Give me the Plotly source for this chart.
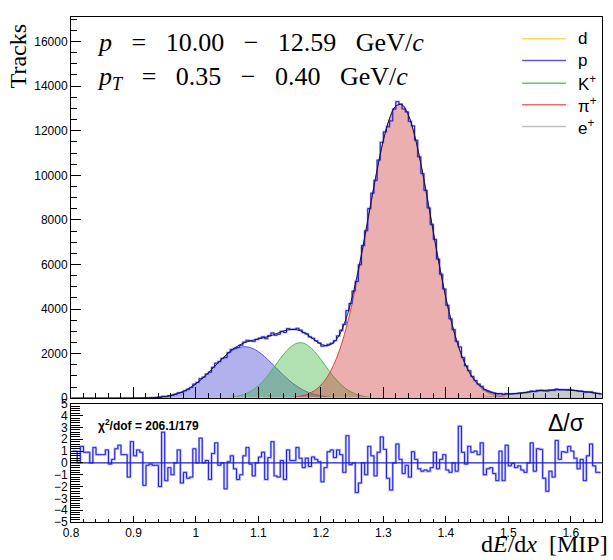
import numpy as np
import plotly.graph_objects as go

# ---------------- data ----------------
hist_counts = [
    1, 1, 0, 2, 1, 1, 0, 2, 1, 1, 1, 2, 0, 1, 2, 3, 2, 3, 1, 6,
    5, 9, 11, 5, 14, 21, 27, 37, 36, 87, 72, 108,
    133, 184, 247, 256, 335, 398, 483, 635, 710, 885, 948, 1087, 1171, 1392, 1573, 1642, 1790, 1827,
    2052, 2189, 2238, 2282, 2375, 2515, 2601, 2571, 2556, 2643, 2701, 2755, 2672, 2810, 2929,
    2826, 2872, 2999, 2953, 3123, 3091, 3093, 3137, 3057, 2943, 2891, 2754, 2691, 2580, 2480,
    2336, 2358, 2416, 2469, 2583, 2798, 3048, 3314, 3932, 4250, 4810, 5236, 5987, 6850, 7513,
    8508, 9197, 9771, 10683,
    11473, 11945, 12176, 12441, 12970, 13303, 13199, 12977, 12847, 12416, 12215, 11572, 10828,
    10079, 9322, 8535, 7795, 7126, 6240, 5562, 4899, 4171, 3562, 3080, 2554, 2304, 1828, 1456,
    1238, 978, 798, 637, 533, 380, 321,
    273, 231, 193, 214, 169, 211, 192, 204, 210, 226, 237, 250, 280, 326, 301, 350, 363, 329,
    317, 357, 353, 416, 385, 394, 387, 390, 372, 349, 319, 318, 271, 290, 289, 242, 218, 199,
]

residuals = [
    1.0, 1.0, 0.0, 1.4, 0.9, 0.9, 0.0, 1.3, 0.7, 0.7, 0.7, 1.1, -0.1, 0.3, 1.2, 1.5, 0.7, 0.7,
    -1.2, 1.8, 0.6, 1.1, 0.9, -1.9, -0.2, -0.1, -0.2, -0.2, -2.0, 2.6, -1.5, -0.4,
    -1.0, 0.0, 1.1, -1.7, -0.8, -1.3, -1.2, 1.2, 0.0, 2.1, 0.0, 0.2, -1.4, 0.8, 1.7, -0.2, 0.0,
    -2.2, 0.1, 0.6, -0.5, -1.4, -1.0, 0.6, 1.3, -0.1, -1.1, 0.0, 0.5, 0.9, -1.4, 0.45, 1.8,
    -1.1, -1.2, 0.2, -1.4, 1.1, 0.2, 0.2, 1.3, 0.4, -0.4, 0.4, -0.3, 0.5, 0.3, 0.1, -1.6, -0.4,
    0.95, 1.1, 0.45, 1.1, 0.7, -0.8, 2.3, -0.15, 0.0, -2.5, -1.7, 0.0, -1.0, 1.4, 0.6, -1.1, 0.9,
    2.2, 1.15, -1.3, -2.3, 0.0, 1.6, 0.3, -0.9, -0.2, -1.2, 0.95, 0.3, -0.5, -0.7, -0.6, -0.7,
    -0.4, 0.9, -0.5, 0.3, 0.7, -0.6, -0.8, 0.0, -0.7, 3.1, 0.9, -0.1, 1.4, 0.9, 1.0, 0.7, 1.7,
    -1.0, -0.5,
    -0.4, -0.9, -1.5, 1.0, -1.5, 1.5, -0.25, -0.05, -0.4, -0.25, -0.6, -0.8, 0.0, 1.7, -0.7, 1.2,
    1.15, -1.3, -2.4, -0.7, -1.2, 1.9, 0.3, 0.95, 0.9, 1.4, 1.0, 0.4, -0.5, 0.3, -1.5, 0.6, 1.6,
    -0.25, -0.8, -0.8,
]

# fit components sampled every 0.01 from 0.80 to 1.65 (86 points)
comp_d = [0, 0]  # flat at zero over the full range
comp_p = [
    0, 0, 0, 0, 0, 0, 0, 0,
    1, 2, 3, 6, 13, 24, 44, 76, 127, 203, 313, 462, 651, 882, 1147, 1430, 1710, 1962,
    2160, 2280, 2310, 2242, 2090, 1867, 1600, 1316, 1038, 784, 570, 396, 263, 169, 104,
    61, 35, 19, 10, 5, 2, 1,
    0, 0, 0, 0, 0, 0, 0, 0, 0, 0, 0, 0, 0, 0, 0, 0, 0, 0, 0, 0,
    0, 0, 0, 0, 0, 0, 0, 0, 0, 0, 0, 0, 0, 0, 0, 0, 0, 0,
]
comp_K = [
    0, 0, 0, 0, 0, 0, 0, 0, 0, 0, 0, 0, 0, 0, 0, 0, 0, 0, 0, 0,
    0, 1, 2, 5, 12, 28, 58, 113, 206, 354, 569, 856, 1204, 1588, 1960, 2264, 2450, 2483,
    2355, 2092, 1741, 1356, 989, 675, 432, 259, 145, 76, 37, 17, 8, 3, 1,
    0, 0, 0, 0, 0, 0, 0, 0, 0, 0, 0, 0, 0, 0, 0, 0, 0, 0, 0, 0,
    0, 0, 0, 0, 0, 0, 0, 0, 0, 0, 0, 0, 0,
]
comp_pi = [
    0, 0, 0, 0, 0, 0, 0, 0, 0, 0, 0, 0, 0, 0, 0, 0, 0, 0, 0, 0,
    0, 0, 0, 0, 0, 0, 0, 0, 0, 0,
    1, 2, 3, 7, 15, 30, 60, 112, 202, 350, 589, 943, 1463, 2166, 3097, 4253, 5619, 7136,
    8717, 10239, 11563, 12554, 13107, 13159, 12703, 11790, 10522, 9031, 7453, 5913, 4512,
    3311, 2335, 1584, 1033, 647, 391, 227, 126, 68, 35, 17, 8, 4, 2, 1,
    0, 0, 0, 0, 0, 0, 0, 0, 0, 0,
]
comp_e = [
    0, 0, 0, 0, 0, 0, 0, 0, 0, 0, 0, 0, 0, 0, 0, 0, 0, 0, 0, 0,
    0, 0, 0, 0, 0, 0, 0, 0, 0, 0, 0, 0, 0, 0, 0, 0, 0, 0, 0, 0,
    0, 0, 0, 0, 0, 0, 0, 0, 0, 0, 0, 0, 0, 0, 0, 0, 0, 0, 0, 0,
    4, 7, 11, 17, 25, 37, 52, 70, 94, 123, 156, 192, 230, 268, 304, 335, 359, 374, 380,
    374, 359, 335, 304, 268, 230, 192,
]

legend_labels = ["d", "p", "K<sup>+</sup>", "π<sup>+</sup>", "e<sup>+</sup>"]
x_min, x_max = 0.8, 1.65
chi2_text = "<b>χ<sup>2</sup>/dof = 206.1/179</b>"

# ---------------- derived positions ----------------
nb = len(hist_counts)
edges = np.linspace(x_min, x_max, nb + 1)
centers = 0.5 * (edges[:-1] + edges[1:])
xc = np.linspace(x_min, x_max, len(comp_p))
total_fit = np.array(comp_p) + np.array(comp_K) + np.array(comp_pi) + np.array(comp_e)

fig = go.Figure()

comps = [
    (comp_p, "rgb(90,90,210)", "rgba(60,60,210,0.40)"),
    (comp_K, "rgb(80,185,80)", "rgba(60,180,60,0.40)"),
    (comp_pi, "rgb(230,60,60)", "rgba(205,55,55,0.40)"),
    (comp_e, "rgb(150,150,150)", "rgba(120,120,120,0.40)"),
]
for vals, lc, fc in comps:
    fig.add_trace(go.Scatter(x=xc, y=vals, mode="lines", line=dict(color=lc, width=1, shape="spline"),
                             fill="tozeroy", fillcolor=fc, showlegend=False, hoverinfo="skip",
                             xaxis="x", yaxis="y"))

# deuteron (flat)
fig.add_trace(go.Scatter(x=[x_min, x_max], y=comp_d, mode="lines",
                         line=dict(color="rgb(255,210,80)", width=2), showlegend=False,
                         xaxis="x", yaxis="y"))

# histogram
fig.add_trace(go.Scatter(x=centers, y=hist_counts, mode="lines",
                         line=dict(color="rgba(130,130,255,0.6)", width=2.2, shape="hvh"),
                         showlegend=False, xaxis="x", yaxis="y"))
fig.add_trace(go.Scatter(x=centers, y=hist_counts, mode="lines",
                         line=dict(color="rgb(30,30,170)", width=1, shape="hvh"),
                         showlegend=False, xaxis="x", yaxis="y"))
# total fit
fig.add_trace(go.Scatter(x=xc, y=total_fit, mode="lines",
                         line=dict(color="rgb(20,20,70)", width=1, shape="spline"),
                         showlegend=False, xaxis="x", yaxis="y"))

# residual panel
fig.add_trace(go.Scatter(x=centers, y=residuals, mode="lines",
                         line=dict(color="rgba(130,130,255,0.6)", width=2.4, shape="hvh"),
                         showlegend=False, xaxis="x2", yaxis="y2"))
fig.add_trace(go.Scatter(x=centers, y=residuals, mode="lines",
                         line=dict(color="rgb(30,30,220)", width=1, shape="hvh"),
                         showlegend=False, xaxis="x2", yaxis="y2"))
fig.add_trace(go.Scatter(x=[x_min, x_max], y=[0, 0], mode="lines",
                         line=dict(color="rgb(30,30,200)", width=1.3),
                         showlegend=False, xaxis="x2", yaxis="y2"))

tickfont = dict(family="Liberation Sans, Arial, sans-serif", size=12, color="black")
axis_common = dict(showline=True, linecolor="black", linewidth=1, mirror=True,
                   showgrid=False, zeroline=False, ticks="inside", tickcolor="black",
                   tickfont=tickfont)

fig.update_layout(
    width=613, height=560,
    margin=dict(l=71, r=10, t=10, b=38),
    paper_bgcolor="white", plot_bgcolor="white",
    showlegend=False,
    xaxis=dict(domain=[0, 1], anchor="y", range=[x_min, x_max], dtick=0.1, tick0=0.8,
               ticklen=11, showticklabels=False,
               minor=dict(dtick=0.02, ticklen=5, ticks="inside", tickcolor="black"),
               **axis_common),
    yaxis=dict(domain=[0.245, 1], anchor="x", range=[0, 17100], dtick=2000, ticklen=10,
               tickformat="d",
               minor=dict(dtick=500, ticklen=6, ticks="inside", tickcolor="black"),
               **axis_common),
    xaxis2=dict(domain=[0, 1], anchor="y2", range=[x_min, x_max], dtick=0.1, tick0=0.8,
                ticklen=6, matches="x",
                minor=dict(dtick=0.02, ticklen=3, ticks="inside", tickcolor="black"),
                **axis_common),
    yaxis2=dict(domain=[0, 0.234], anchor="x2", range=[-5, 5], dtick=1, ticklen=12,
                minor=dict(dtick=0.2, ticklen=9, ticks="inside", tickcolor="black"),
                **axis_common),
)

serif = "Liberation Serif, Times New Roman, serif"
sp = "&nbsp;&nbsp;&nbsp;"
ann = [
    dict(text=f"<i>p</i>{sp}={sp}10.00{sp}−{sp}12.59{sp}GeV/<i>c</i>", x=0.045, y=0.949,
         xanchor="left", yanchor="middle", font=dict(family=serif, size=26, color="black")),
    dict(text=f"<i>p</i><sub><i>T</i></sub>{sp}={sp}0.35{sp}−{sp}0.40{sp}GeV/<i>c</i>", x=0.045, y=0.879,
         xanchor="left", yanchor="middle", font=dict(family=serif, size=26, color="black")),
    dict(text="Tracks", x=0, xshift=-53, y=0.922, xanchor="center", yanchor="middle", textangle=-90,
         font=dict(family=serif, size=24, color="black")),
    dict(text="d<i>E</i>/d<i>x</i>&nbsp;&nbsp;[MIP]", x=1, xshift=8, y=0, yshift=-37, xanchor="right",
         yanchor="bottom", font=dict(family=serif, size=24, color="black")),
    dict(text=chi2_text, x=0.048, y=0.193, xanchor="left", yanchor="middle",
         font=dict(family="Liberation Sans, Arial, sans-serif", size=12, color="black")),
    dict(text="Δ/σ", x=0.969, y=0.196, xanchor="right", yanchor="middle",
         font=dict(family="Liberation Sans, Arial, sans-serif", size=23, color="black")),
]
for a in ann:
    a.update(xref="paper", yref="paper", showarrow=False)
    fig.add_annotation(**a)

# manual legend
leg_colors = ["rgb(255,215,90)", "rgb(90,90,210)", "rgb(100,200,100)", "rgb(240,110,110)", "rgb(190,190,190)"]
leg_y = [0.957, 0.914, 0.869, 0.826, 0.783]
for lab, col, yy in zip(legend_labels, leg_colors, leg_y):
    fig.add_shape(type="line", xref="paper", yref="paper", x0=0.8496, x1=0.9323, y0=yy, y1=yy,
                  line=dict(color=col, width=1.5))
    fig.add_annotation(text=lab, xref="paper", yref="paper", x=0.951, y=yy, xanchor="left",
                       yanchor="middle", showarrow=False,
                       font=dict(family="Liberation Sans, Arial, sans-serif", size=17, color="black"))

fig.write_html("out.html")
